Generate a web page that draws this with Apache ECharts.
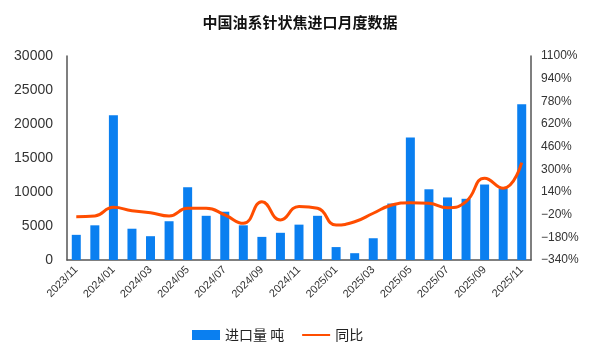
<!DOCTYPE html>
<html>
<head>
<meta charset="utf-8">
<script src="https://cdn.jsdelivr.net/npm/echarts@6/dist/echarts.min.js"></script>
<style>
  html, body { margin: 0; padding: 0; background: #fff; }
  #chart { width: 600px; height: 352px; }
</style>
</head>
<body>
<div id="chart"></div>
<script>
// 月份
const months = [
    '2023/11', '2023/12', '2024/01', '2024/02', '2024/03', '2024/04', '2024/05',
    '2024/06', '2024/07', '2024/08', '2024/09', '2024/10', '2024/11', '2024/12',
    '2025/01', '2025/02', '2025/03', '2025/04', '2025/05', '2025/06', '2025/07',
    '2025/08', '2025/09', '2025/10', '2025/11'
];
// 进口量（吨）
const importTons = [
    3700, 5100, 21300, 4600, 3500, 5700, 10700,
    6500, 7100, 5100, 3400, 4000, 5200, 6500,
    1900, 1000, 3200, 8300, 18000, 10400, 9200,
    9000, 11100, 10500, 22900
];
// 同比（%）
const yoyPct = [
    -34, -29, 32, 8, -6, -29, 25,
    25, -22, -81, 72, -58, 38, 25,
    -93, -70, -10, 48, 65, 60, 29,
    72, 237, 166, 347
];

const CJK = '"Noto Sans CJK SC", sans-serif';
const NUM = '"Liberation Sans", Arial, sans-serif';

const chart = echarts.init(document.getElementById('chart'));

const option = {
    animation: false,
    title: {
        text: '中国油系针状焦进口月度数据',
        left: 'center',
        top: 10,
        textStyle: { fontFamily: CJK, fontSize: 15, fontWeight: 'bold', color: '#111' }
    },
    grid: { left: 67, right: 69, top: 56, bottom: 92 },
    legend: {
        bottom: 5,
        left: 187,
        itemGap: 17,
        itemWidth: 28,
        itemHeight: 10,
        textStyle: { fontFamily: CJK, fontSize: 14, color: '#222' },
        data: [
            { name: '进口量 吨', icon: 'rect' },
            { name: '同比', itemStyle: { opacity: 0 } }
        ]
    },
    xAxis: {
        type: 'category',
        data: months,
        axisLine: { lineStyle: { color: '#555', width: 1.5 } },
        axisTick: { show: false },
        axisLabel: {
            interval: 1,
            rotate: 45,
            fontFamily: NUM,
            fontSize: 11,
            color: '#333',
            margin: 8
        }
    },
    yAxis: [
        {
            type: 'value',
            min: 0,
            max: 30000,
            interval: 5000,
            splitLine: { show: false },
            axisLine: { show: true, lineStyle: { color: '#555', width: 1.5 } },
            axisTick: { show: false },
            axisLabel: {
                fontFamily: NUM,
                fontSize: 14,
                color: '#333',
                margin: 14,
                formatter: v => String(v)
            }
        },
        {
            type: 'value',
            min: -340,
            max: 1100,
            interval: 160,
            splitLine: { show: false },
            axisLine: { show: true, lineStyle: { color: '#555', width: 1.5 } },
            axisTick: { show: false },
            axisLabel: {
                fontFamily: NUM,
                fontSize: 12,
                color: '#333',
                margin: 10,
                formatter: v => String(v).replace('-', '\u2212') + '%'
            }
        }
    ],
    series: [
        {
            name: '进口量 吨',
            type: 'bar',
            data: importTons,
            barWidth: 9,
            itemStyle: { color: '#0a7ff0' }
        },
        {
            name: '同比',
            type: 'line',
            yAxisIndex: 1,
            data: yoyPct,
            smooth: true,
            symbol: 'none',
            lineStyle: { color: '#ff4d00', width: 3 },
            itemStyle: { color: '#ff4d00' }
        }
    ]
};

chart.setOption(option);
</script>
</body>
</html>
